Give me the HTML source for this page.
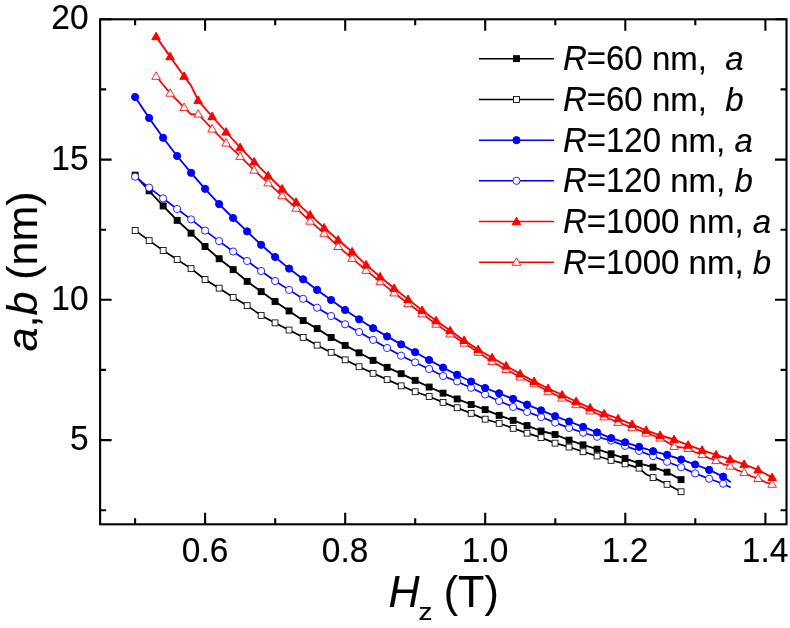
<!DOCTYPE html>
<html lang="en"><head><meta charset="utf-8"><title>a,b (nm) vs Hz (T)</title>
<style>html,body{margin:0;padding:0;background:#fff}body{width:790px;height:628px;overflow:hidden}svg{display:block;font-family:"Liberation Sans",sans-serif}text{stroke:#000;stroke-width:.15px;stroke-linejoin:round}</style></head><body>
<svg width="790" height="628" viewBox="0 0 790 628">
<rect x="0" y="0" width="790" height="628" fill="#fff"/>
<polyline points="135.1,230.4 149.1,240.6 163.1,250.4 177.1,259.5 191.1,268.6 205.1,279.5 219.1,288.2 233.1,297.3 247.1,305.6 261.1,315.4 275.1,322.9 289.1,330 303.1,337.3 317.1,345.2 331.1,352.4 345.1,359.8 359.1,366.7 373.1,373.3 387.1,379.6 401.1,385.8 415.1,391.7 429.1,396.5 443.1,402.4 457.1,407.7 471.1,413.4 485.1,419.2 499.1,423.3 513.1,428.3 527.1,433.1 541.1,437.6 555.1,443.1 569.1,447 583.1,451.7 597.1,456 611.1,460.3 625.1,463.9 639.1,468.1 646.1,474.3 653.1,477.6 667.1,484.3 681.1,491.7" fill="none" stroke="#000" stroke-width="1.7" stroke-linejoin="round"/>
<g fill="#fff" stroke="#000" stroke-width="0.85"><rect x="132.2" y="227.5" width="5.9" height="5.9"/><rect x="146.2" y="237.7" width="5.9" height="5.9"/><rect x="160.2" y="247.5" width="5.9" height="5.9"/><rect x="174.2" y="256.6" width="5.9" height="5.9"/><rect x="188.1" y="265.7" width="5.9" height="5.9"/><rect x="202.1" y="276.6" width="5.9" height="5.9"/><rect x="216.2" y="285.2" width="5.9" height="5.9"/><rect x="230.2" y="294.4" width="5.9" height="5.9"/><rect x="244.2" y="302.7" width="5.9" height="5.9"/><rect x="258.2" y="312.4" width="5.9" height="5.9"/><rect x="272.1" y="319.9" width="5.9" height="5.9"/><rect x="286.1" y="327.1" width="5.9" height="5.9"/><rect x="300.2" y="334.4" width="5.9" height="5.9"/><rect x="314.2" y="342.2" width="5.9" height="5.9"/><rect x="328.2" y="349.4" width="5.9" height="5.9"/><rect x="342.2" y="356.9" width="5.9" height="5.9"/><rect x="356.1" y="363.8" width="5.9" height="5.9"/><rect x="370.1" y="370.4" width="5.9" height="5.9"/><rect x="384.2" y="376.7" width="5.9" height="5.9"/><rect x="398.2" y="382.9" width="5.9" height="5.9"/><rect x="412.2" y="388.8" width="5.9" height="5.9"/><rect x="426.2" y="393.6" width="5.9" height="5.9"/><rect x="440.1" y="399.4" width="5.9" height="5.9"/><rect x="454.2" y="404.8" width="5.9" height="5.9"/><rect x="468.2" y="410.4" width="5.9" height="5.9"/><rect x="482.2" y="416.2" width="5.9" height="5.9"/><rect x="496.2" y="420.4" width="5.9" height="5.9"/><rect x="510.2" y="425.4" width="5.9" height="5.9"/><rect x="524.1" y="430.2" width="5.9" height="5.9"/><rect x="538.1" y="434.7" width="5.9" height="5.9"/><rect x="552.1" y="440.2" width="5.9" height="5.9"/><rect x="566.1" y="444.1" width="5.9" height="5.9"/><rect x="580.1" y="448.8" width="5.9" height="5.9"/><rect x="594.1" y="453.1" width="5.9" height="5.9"/><rect x="608.1" y="457.4" width="5.9" height="5.9"/><rect x="622.1" y="460.9" width="5.9" height="5.9"/><rect x="636.1" y="465.2" width="5.9" height="5.9"/><rect x="650.1" y="474.7" width="5.9" height="5.9"/><rect x="664.1" y="481.4" width="5.9" height="5.9"/><rect x="678.1" y="488.8" width="5.9" height="5.9"/></g>
<polyline points="135.1,175.2 149.1,190.8 163.1,205.9 177.1,220.3 191.1,233.1 205.1,246.5 219.1,258.7 233.1,269.6 247.1,281.3 261.1,291.6 275.1,301.4 289.1,310.9 303.1,320.5 317.1,328.6 331.1,337.5 345.1,345.4 359.1,352.8 373.1,360.3 387.1,367.4 401.1,373.7 415.1,380.4 429.1,387 443.1,393.2 457.1,398.9 471.1,404.5 485.1,409.6 499.1,415.3 513.1,420.3 527.1,425.6 541.1,431 555.1,434.5 569.1,440.2 583.1,444.9 597.1,449.1 611.1,453.9 625.1,458.4 639.1,463.4 653.1,467.2 667.1,472.2 681.1,479.6" fill="none" stroke="#000" stroke-width="1.85" stroke-linejoin="round"/>
<g fill="#000" stroke="#000" stroke-width="1"><rect x="132.2" y="172.2" width="5.9" height="5.9"/><rect x="146.2" y="187.9" width="5.9" height="5.9"/><rect x="160.2" y="203" width="5.9" height="5.9"/><rect x="174.2" y="217.4" width="5.9" height="5.9"/><rect x="188.1" y="230.2" width="5.9" height="5.9"/><rect x="202.1" y="243.6" width="5.9" height="5.9"/><rect x="216.2" y="255.8" width="5.9" height="5.9"/><rect x="230.2" y="266.7" width="5.9" height="5.9"/><rect x="244.2" y="278.4" width="5.9" height="5.9"/><rect x="258.2" y="288.7" width="5.9" height="5.9"/><rect x="272.1" y="298.5" width="5.9" height="5.9"/><rect x="286.1" y="308" width="5.9" height="5.9"/><rect x="300.2" y="317.6" width="5.9" height="5.9"/><rect x="314.2" y="325.7" width="5.9" height="5.9"/><rect x="328.2" y="334.5" width="5.9" height="5.9"/><rect x="342.2" y="342.4" width="5.9" height="5.9"/><rect x="356.1" y="349.9" width="5.9" height="5.9"/><rect x="370.1" y="357.4" width="5.9" height="5.9"/><rect x="384.2" y="364.4" width="5.9" height="5.9"/><rect x="398.2" y="370.8" width="5.9" height="5.9"/><rect x="412.2" y="377.4" width="5.9" height="5.9"/><rect x="426.2" y="384.1" width="5.9" height="5.9"/><rect x="440.1" y="390.2" width="5.9" height="5.9"/><rect x="454.2" y="396" width="5.9" height="5.9"/><rect x="468.2" y="401.6" width="5.9" height="5.9"/><rect x="482.2" y="406.7" width="5.9" height="5.9"/><rect x="496.2" y="412.4" width="5.9" height="5.9"/><rect x="510.2" y="417.4" width="5.9" height="5.9"/><rect x="524.1" y="422.7" width="5.9" height="5.9"/><rect x="538.1" y="428.1" width="5.9" height="5.9"/><rect x="552.1" y="431.6" width="5.9" height="5.9"/><rect x="566.1" y="437.2" width="5.9" height="5.9"/><rect x="580.1" y="441.9" width="5.9" height="5.9"/><rect x="594.1" y="446.2" width="5.9" height="5.9"/><rect x="608.1" y="450.9" width="5.9" height="5.9"/><rect x="622.1" y="455.4" width="5.9" height="5.9"/><rect x="636.1" y="460.4" width="5.9" height="5.9"/><rect x="650.1" y="464.2" width="5.9" height="5.9"/><rect x="664.1" y="469.2" width="5.9" height="5.9"/><rect x="678.1" y="476.7" width="5.9" height="5.9"/></g>
<polyline points="135.1,176.7 149.1,187.6 163.1,198.4 177.1,209 191.1,219.4 205.1,230.6 219.1,241.1 233.1,251.5 247.1,261 261.1,271 275.1,281 289.1,289.9 303.1,298.8 317.1,307.7 331.1,316 345.1,324.3 359.1,332 373.1,339.9 387.1,348 401.1,355.7 415.1,362.4 429.1,369 443.1,376 457.1,381.4 471.1,387.8 485.1,394.5 499.1,401 513.1,406.9 527.1,411.9 541.1,417 555.1,422.6 569.1,427.9 583.1,432.7 597.1,436.8 611.1,440.6 625.1,445.9 639.1,450.9 653.1,456.2 667.1,461.8 681.1,467.2 695.1,473.4 709.1,478.7 723.1,483.7 730.7,487.6" fill="none" stroke="#00f" stroke-width="1.7" stroke-linejoin="round"/>
<g fill="#fff" stroke="#00f" stroke-width="0.85"><circle cx="135.1" cy="176.7" r="3.6"/><circle cx="149.1" cy="187.6" r="3.6"/><circle cx="163.1" cy="198.4" r="3.6"/><circle cx="177.1" cy="209" r="3.6"/><circle cx="191.1" cy="219.4" r="3.6"/><circle cx="205.1" cy="230.6" r="3.6"/><circle cx="219.1" cy="241.1" r="3.6"/><circle cx="233.1" cy="251.5" r="3.6"/><circle cx="247.1" cy="261" r="3.6"/><circle cx="261.1" cy="271" r="3.6"/><circle cx="275.1" cy="281" r="3.6"/><circle cx="289.1" cy="289.9" r="3.6"/><circle cx="303.1" cy="298.8" r="3.6"/><circle cx="317.1" cy="307.7" r="3.6"/><circle cx="331.1" cy="316" r="3.6"/><circle cx="345.1" cy="324.3" r="3.6"/><circle cx="359.1" cy="332" r="3.6"/><circle cx="373.1" cy="339.9" r="3.6"/><circle cx="387.1" cy="348" r="3.6"/><circle cx="401.1" cy="355.7" r="3.6"/><circle cx="415.1" cy="362.4" r="3.6"/><circle cx="429.1" cy="369" r="3.6"/><circle cx="443.1" cy="376" r="3.6"/><circle cx="457.1" cy="381.4" r="3.6"/><circle cx="471.1" cy="387.8" r="3.6"/><circle cx="485.1" cy="394.5" r="3.6"/><circle cx="499.1" cy="401" r="3.6"/><circle cx="513.1" cy="406.9" r="3.6"/><circle cx="527.1" cy="411.9" r="3.6"/><circle cx="541.1" cy="417" r="3.6"/><circle cx="555.1" cy="422.6" r="3.6"/><circle cx="569.1" cy="427.9" r="3.6"/><circle cx="583.1" cy="432.7" r="3.6"/><circle cx="597.1" cy="436.8" r="3.6"/><circle cx="611.1" cy="440.6" r="3.6"/><circle cx="625.1" cy="445.9" r="3.6"/><circle cx="639.1" cy="450.9" r="3.6"/><circle cx="653.1" cy="456.2" r="3.6"/><circle cx="667.1" cy="461.8" r="3.6"/><circle cx="681.1" cy="467.2" r="3.6"/><circle cx="695.1" cy="473.4" r="3.6"/><circle cx="709.1" cy="478.7" r="3.6"/><circle cx="723.1" cy="483.7" r="3.6"/></g>
<polyline points="135.1,97 149.1,118 163.1,137.8 177.1,156 191.1,172.8 205.1,188.8 219.1,204.1 233.1,218 247.1,231.4 261.1,244.8 275.1,257 289.1,268.6 303.1,279.3 317.1,289.9 331.1,300 345.1,310 359.1,319.3 373.1,328.2 387.1,336.4 401.1,344.4 415.1,352.2 429.1,360 443.1,367.6 457.1,374.7 471.1,381.5 485.1,388 499.1,393.3 513.1,398.9 527.1,404.6 541.1,410.4 555.1,416.2 569.1,421.5 583.1,426.9 597.1,432.4 611.1,438.1 625.1,442.3 639.1,446.8 653.1,451.2 667.1,454.8 681.1,459.5 695.1,464.5 709.1,469.9 723.1,476.6 730.7,482.2" fill="none" stroke="#00f" stroke-width="1.85" stroke-linejoin="round"/>
<g fill="#00f" stroke="#00f" stroke-width="1"><circle cx="135.1" cy="97" r="3.6"/><circle cx="149.1" cy="118" r="3.6"/><circle cx="163.1" cy="137.8" r="3.6"/><circle cx="177.1" cy="156" r="3.6"/><circle cx="191.1" cy="172.8" r="3.6"/><circle cx="205.1" cy="188.8" r="3.6"/><circle cx="219.1" cy="204.1" r="3.6"/><circle cx="233.1" cy="218" r="3.6"/><circle cx="247.1" cy="231.4" r="3.6"/><circle cx="261.1" cy="244.8" r="3.6"/><circle cx="275.1" cy="257" r="3.6"/><circle cx="289.1" cy="268.6" r="3.6"/><circle cx="303.1" cy="279.3" r="3.6"/><circle cx="317.1" cy="289.9" r="3.6"/><circle cx="331.1" cy="300" r="3.6"/><circle cx="345.1" cy="310" r="3.6"/><circle cx="359.1" cy="319.3" r="3.6"/><circle cx="373.1" cy="328.2" r="3.6"/><circle cx="387.1" cy="336.4" r="3.6"/><circle cx="401.1" cy="344.4" r="3.6"/><circle cx="415.1" cy="352.2" r="3.6"/><circle cx="429.1" cy="360" r="3.6"/><circle cx="443.1" cy="367.6" r="3.6"/><circle cx="457.1" cy="374.7" r="3.6"/><circle cx="471.1" cy="381.5" r="3.6"/><circle cx="485.1" cy="388" r="3.6"/><circle cx="499.1" cy="393.3" r="3.6"/><circle cx="513.1" cy="398.9" r="3.6"/><circle cx="527.1" cy="404.6" r="3.6"/><circle cx="541.1" cy="410.4" r="3.6"/><circle cx="555.1" cy="416.2" r="3.6"/><circle cx="569.1" cy="421.5" r="3.6"/><circle cx="583.1" cy="426.9" r="3.6"/><circle cx="597.1" cy="432.4" r="3.6"/><circle cx="611.1" cy="438.1" r="3.6"/><circle cx="625.1" cy="442.3" r="3.6"/><circle cx="639.1" cy="446.8" r="3.6"/><circle cx="653.1" cy="451.2" r="3.6"/><circle cx="667.1" cy="454.8" r="3.6"/><circle cx="681.1" cy="459.5" r="3.6"/><circle cx="695.1" cy="464.5" r="3.6"/><circle cx="709.1" cy="469.9" r="3.6"/><circle cx="723.1" cy="476.6" r="3.6"/></g>
<polyline points="156.1,76.2 170.1,93.1 184.1,107.4 191.1,114.3 198.1,114 212.1,128.9 226.1,143 240.1,156.3 254.1,170.1 268.1,182.8 282.1,195.6 296.1,208.1 310.1,221.1 324.1,233.2 338.1,246.4 352.1,258.3 366.1,270.2 380.1,281.6 394.1,292.8 408.1,303.5 422.1,313.8 436.1,324.1 450.1,333.8 464.1,343 478.1,352.2 492.1,361.5 506.1,369.4 520.1,376.9 534.1,383.7 548.1,391.2 562.1,398 576.1,404.6 590.1,410.8 604.1,416.8 618.1,422.3 632.1,427.6 646.1,433 660.1,438 674.1,446.3 688.1,448.4 695.1,452.2 702.1,454.5 709.1,458.3 716.1,460.5 723.1,464.1 730.1,466 737.1,470.1 744.1,472.5 751.1,476.3 758.1,478.4 765.1,482.1 772.1,484.2" fill="none" stroke="#f00" stroke-width="1.7" stroke-linejoin="round"/>
<g fill="#fff" stroke="#f00" stroke-width="0.85"><path d="M156.1 71.8L160.4 79.3L151.8 79.3Z"/><path d="M170.1 88.7L174.4 96.2L165.8 96.2Z"/><path d="M184.1 103L188.4 110.5L179.8 110.5Z"/><path d="M198.1 109.6L202.4 117.1L193.8 117.1Z"/><path d="M212.1 124.5L216.4 132L207.8 132Z"/><path d="M226.1 138.6L230.4 146.1L221.8 146.1Z"/><path d="M240.1 151.9L244.4 159.4L235.8 159.4Z"/><path d="M254.1 165.7L258.4 173.2L249.8 173.2Z"/><path d="M268.1 178.4L272.4 185.9L263.8 185.9Z"/><path d="M282.1 191.2L286.4 198.7L277.8 198.7Z"/><path d="M296.1 203.7L300.4 211.2L291.8 211.2Z"/><path d="M310.1 216.7L314.4 224.2L305.8 224.2Z"/><path d="M324.1 228.8L328.4 236.3L319.8 236.3Z"/><path d="M338.1 242L342.4 249.5L333.8 249.5Z"/><path d="M352.1 253.9L356.4 261.4L347.8 261.4Z"/><path d="M366.1 265.8L370.4 273.3L361.8 273.3Z"/><path d="M380.1 277.2L384.4 284.7L375.8 284.7Z"/><path d="M394.1 288.4L398.4 295.9L389.8 295.9Z"/><path d="M408.1 299.1L412.4 306.6L403.8 306.6Z"/><path d="M422.1 309.4L426.4 316.9L417.8 316.9Z"/><path d="M436.1 319.7L440.4 327.2L431.8 327.2Z"/><path d="M450.1 329.4L454.4 336.9L445.8 336.9Z"/><path d="M464.1 338.6L468.4 346.1L459.8 346.1Z"/><path d="M478.1 347.8L482.4 355.3L473.8 355.3Z"/><path d="M492.1 357.1L496.4 364.6L487.8 364.6Z"/><path d="M506.1 365L510.4 372.5L501.8 372.5Z"/><path d="M520.1 372.5L524.4 380L515.8 380Z"/><path d="M534.1 379.3L538.4 386.8L529.8 386.8Z"/><path d="M548.1 386.8L552.4 394.3L543.8 394.3Z"/><path d="M562.1 393.6L566.4 401.1L557.8 401.1Z"/><path d="M576.1 400.2L580.4 407.7L571.8 407.7Z"/><path d="M590.1 406.4L594.4 413.9L585.8 413.9Z"/><path d="M604.1 412.4L608.4 419.9L599.8 419.9Z"/><path d="M618.1 417.9L622.4 425.4L613.8 425.4Z"/><path d="M632.1 423.2L636.4 430.7L627.8 430.7Z"/><path d="M646.1 428.6L650.4 436.1L641.8 436.1Z"/><path d="M660.1 433.6L664.4 441.1L655.8 441.1Z"/><path d="M674.1 441.9L678.4 449.4L669.8 449.4Z"/><path d="M688.1 444L692.4 451.5L683.8 451.5Z"/><path d="M702.1 450.1L706.4 457.6L697.8 457.6Z"/><path d="M716.1 456.1L720.4 463.6L711.8 463.6Z"/><path d="M730.1 461.6L734.4 469.1L725.8 469.1Z"/><path d="M744.1 468.1L748.4 475.6L739.8 475.6Z"/><path d="M758.1 474L762.4 481.5L753.8 481.5Z"/><path d="M772.1 479.8L776.4 487.3L767.8 487.3Z"/></g>
<polyline points="156.1,36.6 170.1,56.6 184.1,76.2 191.1,85.6 198.1,100.3 212.1,116.5 226.1,132 240.1,147.5 254.1,161.8 268.1,175.7 282.1,189 296.1,202.1 310.1,214.9 324.1,227.8 338.1,240 352.1,251.8 366.1,264.9 380.1,276.8 394.1,288.3 408.1,299.4 422.1,310.3 436.1,320.7 450.1,330.6 464.1,340.4 478.1,349.5 492.1,357.7 506.1,365.9 520.1,373.9 534.1,381.4 548.1,388.5 562.1,394.9 576.1,401.5 590.1,407.8 604.1,413.7 618.1,418.7 632.1,424.4 646.1,430.3 660.1,435.3 674.1,439.5 688.1,445.1 702.1,450.2 716.1,454.8 730.1,459.3 744.1,464.3 758.1,469.9 772.1,477.4" fill="none" stroke="#f00" stroke-width="1.85" stroke-linejoin="round"/>
<g fill="#f00" stroke="#f00" stroke-width="1"><path d="M156.1 32.2L160.4 39.7L151.8 39.7Z"/><path d="M170.1 52.2L174.4 59.7L165.8 59.7Z"/><path d="M184.1 71.8L188.4 79.3L179.8 79.3Z"/><path d="M198.1 95.9L202.4 103.4L193.8 103.4Z"/><path d="M212.1 112.1L216.4 119.6L207.8 119.6Z"/><path d="M226.1 127.6L230.4 135.1L221.8 135.1Z"/><path d="M240.1 143.1L244.4 150.6L235.8 150.6Z"/><path d="M254.1 157.4L258.4 164.9L249.8 164.9Z"/><path d="M268.1 171.3L272.4 178.8L263.8 178.8Z"/><path d="M282.1 184.6L286.4 192.1L277.8 192.1Z"/><path d="M296.1 197.7L300.4 205.2L291.8 205.2Z"/><path d="M310.1 210.5L314.4 218L305.8 218Z"/><path d="M324.1 223.4L328.4 230.9L319.8 230.9Z"/><path d="M338.1 235.6L342.4 243.1L333.8 243.1Z"/><path d="M352.1 247.4L356.4 254.9L347.8 254.9Z"/><path d="M366.1 260.5L370.4 268L361.8 268Z"/><path d="M380.1 272.4L384.4 279.9L375.8 279.9Z"/><path d="M394.1 283.9L398.4 291.4L389.8 291.4Z"/><path d="M408.1 295L412.4 302.5L403.8 302.5Z"/><path d="M422.1 305.9L426.4 313.4L417.8 313.4Z"/><path d="M436.1 316.3L440.4 323.8L431.8 323.8Z"/><path d="M450.1 326.2L454.4 333.7L445.8 333.7Z"/><path d="M464.1 336L468.4 343.5L459.8 343.5Z"/><path d="M478.1 345.1L482.4 352.6L473.8 352.6Z"/><path d="M492.1 353.3L496.4 360.8L487.8 360.8Z"/><path d="M506.1 361.5L510.4 369L501.8 369Z"/><path d="M520.1 369.5L524.4 377L515.8 377Z"/><path d="M534.1 377L538.4 384.5L529.8 384.5Z"/><path d="M548.1 384.1L552.4 391.6L543.8 391.6Z"/><path d="M562.1 390.5L566.4 398L557.8 398Z"/><path d="M576.1 397.1L580.4 404.6L571.8 404.6Z"/><path d="M590.1 403.4L594.4 410.9L585.8 410.9Z"/><path d="M604.1 409.3L608.4 416.8L599.8 416.8Z"/><path d="M618.1 414.3L622.4 421.8L613.8 421.8Z"/><path d="M632.1 420L636.4 427.5L627.8 427.5Z"/><path d="M646.1 425.9L650.4 433.4L641.8 433.4Z"/><path d="M660.1 430.9L664.4 438.4L655.8 438.4Z"/><path d="M674.1 435.1L678.4 442.6L669.8 442.6Z"/><path d="M688.1 440.7L692.4 448.2L683.8 448.2Z"/><path d="M702.1 445.8L706.4 453.3L697.8 453.3Z"/><path d="M716.1 450.4L720.4 457.9L711.8 457.9Z"/><path d="M730.1 454.9L734.4 462.4L725.8 462.4Z"/><path d="M744.1 459.9L748.4 467.4L739.8 467.4Z"/><path d="M758.1 465.5L762.4 473L753.8 473Z"/><path d="M772.1 473L776.4 480.5L767.8 480.5Z"/></g>
<rect x="100.1" y="19.3" width="686.4" height="505.0" fill="none" stroke="#000" stroke-width="2.1"/>
<path d="M135.1 524.3v-6.0M135.1 19.3v6.0M205.1 524.3v-11.5M205.1 19.3v11.5M275.2 524.3v-6.0M275.2 19.3v6.0M345.2 524.3v-11.5M345.2 19.3v11.5M415.2 524.3v-6.0M415.2 19.3v6.0M485.2 524.3v-11.5M485.2 19.3v11.5M555.3 524.3v-6.0M555.3 19.3v6.0M625.3 524.3v-11.5M625.3 19.3v11.5M695.3 524.3v-6.0M695.3 19.3v6.0M765.4 524.3v-11.5M765.4 19.3v11.5M100.1 510.2h6.0M786.5 510.2h-6.0M100.1 440.1h11.5M786.5 440.1h-11.5M100.1 369.9h6.0M786.5 369.9h-6.0M100.1 299.8h11.5M786.5 299.8h-11.5M100.1 229.7h6.0M786.5 229.7h-6.0M100.1 159.6h11.5M786.5 159.6h-11.5M100.1 89.4h6.0M786.5 89.4h-6.0M100.1 19.3h11.5M786.5 19.3h-11.5" fill="none" stroke="#000" stroke-width="2.1"/>
<g font-size="33.5" fill="#000">
<text transform="translate(205.1 562.2) scale(1 1.035)" text-anchor="middle">0.6</text>
<text transform="translate(345.1 562.2) scale(1 1.035)" text-anchor="middle">0.8</text>
<text transform="translate(485.1 562.2) scale(1 1.035)" text-anchor="middle">1.0</text>
<text transform="translate(625.1 562.2) scale(1 1.035)" text-anchor="middle">1.2</text>
<text transform="translate(765.1 562.2) scale(1 1.035)" text-anchor="middle">1.4</text>
<text transform="translate(88.5 449.9) scale(1 1.035)" text-anchor="end">5</text>
<text transform="translate(88.5 310.2) scale(1 1.035)" text-anchor="end">10</text>
<text transform="translate(88.5 169.8) scale(1 1.035)" text-anchor="end">15</text>
<text transform="translate(88.5 28.8) scale(1 1.035)" text-anchor="end">20</text>
</g>
<g fill="#000"><text transform="translate(388.5 606.9) scale(1 1.04)" font-size="43.0" font-style="italic">H</text><text transform="translate(418.4 619.6) scale(1.14 0.98)" font-size="24.5">z </text><text transform="translate(443.8 606.9) scale(1 1.04)" font-size="43.0">(T)</text></g>
<g fill="#000" transform="translate(37.0 351.5) rotate(-90)"><text transform="translate(0 0) scale(1 0.985)" font-size="43.0" font-style="italic">a</text><text transform="translate(23.9 0) scale(1 1)" font-size="43.0">,</text><text transform="translate(35.9 0) scale(1 1)" font-size="43.0" font-style="italic">b </text><text transform="translate(71.7 0) scale(1 1)" font-size="43.0">(</text><text transform="translate(86 0) scale(1 0.985)" font-size="43.0">nm</text><text transform="translate(145.8 0) scale(1 1)" font-size="43.0">)</text></g>
<path d="M479.0 58.65H554.0" stroke="#000" stroke-width="1.5" fill="none"/>
<g fill="#000" stroke="#000" stroke-width="1"><rect x="513.5" y="55.7" width="5.9" height="5.9"/></g>
<g fill="#000"><text transform="translate(562.9 70.2) scale(1 1.04)" font-size="33.0" font-style="italic">R</text><text transform="translate(586.7 70.2) scale(1 1.04)" font-size="33.0">=60 </text><text transform="translate(651.9 70.2) scale(1 0.985)" font-size="33.0">nm</text><text transform="translate(697.7 70.2) scale(1 1)" font-size="33.0">,  </text><text transform="translate(725.2 70.2) scale(1 0.985)" font-size="33.0" font-style="italic">a</text></g>
<path d="M479.0 99.4H554.0" stroke="#000" stroke-width="1.5" fill="none"/>
<g fill="#fff" stroke="#000" stroke-width="0.85"><rect x="513.5" y="96.5" width="5.9" height="5.9"/></g>
<g fill="#000"><text transform="translate(562.9 111) scale(1 1.04)" font-size="33.0" font-style="italic">R</text><text transform="translate(586.7 111) scale(1 1.04)" font-size="33.0">=60 </text><text transform="translate(651.9 111) scale(1 0.985)" font-size="33.0">nm</text><text transform="translate(697.7 111) scale(1 1)" font-size="33.0">,  </text><text transform="translate(725.2 111) scale(1 1)" font-size="33.0" font-style="italic">b</text></g>
<path d="M479.0 140.15H554.0" stroke="#00f" stroke-width="1.5" fill="none"/>
<g fill="#00f" stroke="#00f" stroke-width="1"><circle cx="516.5" cy="140.2" r="3.6"/></g>
<g fill="#000"><text transform="translate(562.9 151.8) scale(1 1.04)" font-size="33.0" font-style="italic">R</text><text transform="translate(586.7 151.8) scale(1 1.04)" font-size="33.0">=120 </text><text transform="translate(670.2 151.8) scale(1 0.985)" font-size="33.0">nm</text><text transform="translate(716.1 151.8) scale(1 1)" font-size="33.0">, </text><text transform="translate(734.4 151.8) scale(1 0.985)" font-size="33.0" font-style="italic">a</text></g>
<path d="M479.0 180.85H554.0" stroke="#00f" stroke-width="1.5" fill="none"/>
<g fill="#fff" stroke="#00f" stroke-width="0.85"><circle cx="516.5" cy="180.8" r="3.6"/></g>
<g fill="#000"><text transform="translate(562.9 192.4) scale(1 1.04)" font-size="33.0" font-style="italic">R</text><text transform="translate(586.7 192.4) scale(1 1.04)" font-size="33.0">=120 </text><text transform="translate(670.2 192.4) scale(1 0.985)" font-size="33.0">nm</text><text transform="translate(716.1 192.4) scale(1 1)" font-size="33.0">, </text><text transform="translate(734.4 192.4) scale(1 1)" font-size="33.0" font-style="italic">b</text></g>
<path d="M479.0 221.55H554.0" stroke="#f00" stroke-width="1.5" fill="none"/>
<g fill="#f00" stroke="#f00" stroke-width="1"><path d="M516.5 217.2L520.8 224.7L512.2 224.7Z"/></g>
<g fill="#000"><text transform="translate(562.9 233.2) scale(1 1.04)" font-size="33.0" font-style="italic">R</text><text transform="translate(586.7 233.2) scale(1 1.04)" font-size="33.0">=1000 </text><text transform="translate(688.6 233.2) scale(1 0.985)" font-size="33.0">nm</text><text transform="translate(734.4 233.2) scale(1 1)" font-size="33.0">, </text><text transform="translate(752.8 233.2) scale(1 0.985)" font-size="33.0" font-style="italic">a</text></g>
<path d="M479.0 262.2H554.0" stroke="#f00" stroke-width="1.5" fill="none"/>
<g fill="#fff" stroke="#f00" stroke-width="0.85"><path d="M516.5 257.8L520.8 265.3L512.2 265.3Z"/></g>
<g fill="#000"><text transform="translate(562.9 273.8) scale(1 1.04)" font-size="33.0" font-style="italic">R</text><text transform="translate(586.7 273.8) scale(1 1.04)" font-size="33.0">=1000 </text><text transform="translate(688.6 273.8) scale(1 0.985)" font-size="33.0">nm</text><text transform="translate(734.4 273.8) scale(1 1)" font-size="33.0">, </text><text transform="translate(752.8 273.8) scale(1 1)" font-size="33.0" font-style="italic">b</text></g>
</svg></body></html>
